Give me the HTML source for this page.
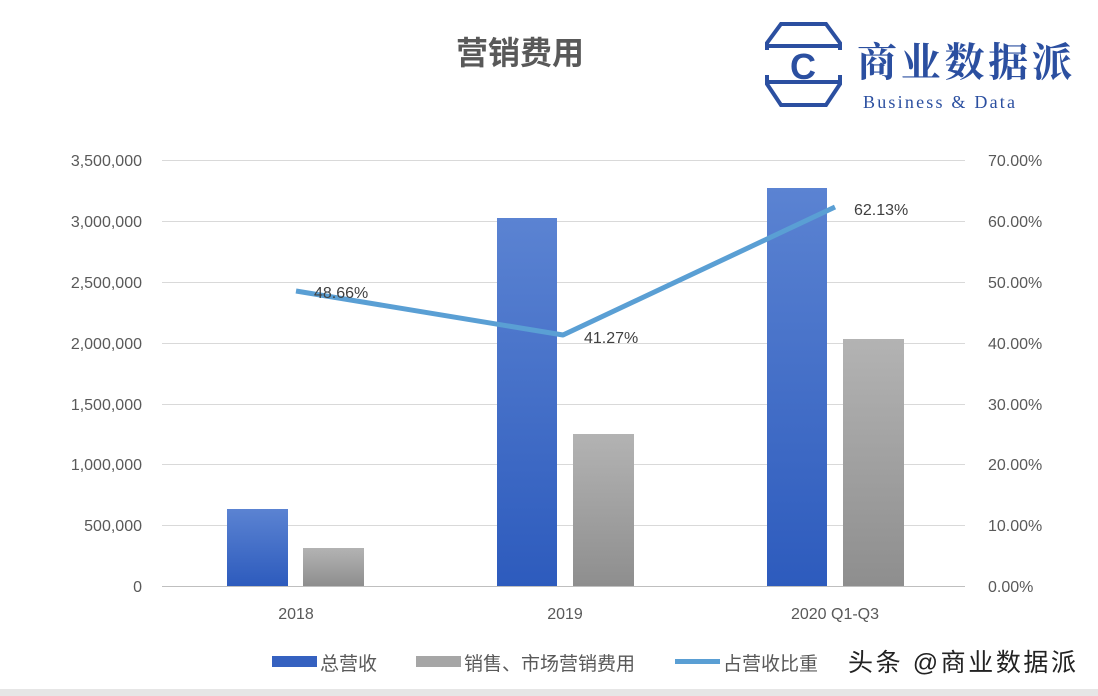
<!DOCTYPE html>
<html><head><meta charset="utf-8"><style>
html,body{margin:0;padding:0;background:#fff;}
svg{display:block;font-family:"Liberation Sans","Noto Sans CJK SC",sans-serif;}
</style></head><body>
<svg width="1098" height="696" viewBox="0 0 1098 696" xmlns="http://www.w3.org/2000/svg">
<defs>
<linearGradient id="gb" x1="0" y1="0" x2="0" y2="1"><stop offset="0" stop-color="#5b83d2"/><stop offset="1" stop-color="#2d5bbd"/></linearGradient>
<linearGradient id="gg" x1="0" y1="0" x2="0" y2="1"><stop offset="0" stop-color="#b3b3b3"/><stop offset="1" stop-color="#8e8e8e"/></linearGradient>
</defs>
<rect x="0" y="0" width="1098" height="696" fill="#fff"/>
<rect x="0" y="689" width="1098" height="7" fill="#e6e6e6"/>
<text x="520" y="64" font-size="32" font-weight="bold" fill="#595959" text-anchor="middle">营销费用</text>
<g stroke="#2b4fa0" stroke-width="4" fill="none">
<polyline points="767,50 767,43 781,24 826,24 840,43 840,50"/>
<polyline points="767,75 767,84 781,105 826,105 840,84 840,75"/>
<line x1="765" y1="46" x2="842" y2="46"/><line x1="765" y1="82" x2="842" y2="82"/>
</g>
<text x="803" y="79" font-size="36" font-weight="bold" fill="#2b4fa0" text-anchor="middle">C</text>
<text x="857" y="76" font-size="40" font-weight="bold" fill="#2b4fa0" font-family="Noto Serif CJK SC,serif" textLength="215">商业数据派</text>
<text x="863" y="108" font-size="18" fill="#2b4fa0" font-family="Liberation Serif,serif" textLength="152">Business &amp; Data</text>
<g stroke="#d9d9d9" stroke-width="1">
<line x1="162" y1="160.5" x2="965" y2="160.5"/><line x1="162" y1="221.5" x2="965" y2="221.5"/>
<line x1="162" y1="282.5" x2="965" y2="282.5"/><line x1="162" y1="343.5" x2="965" y2="343.5"/>
<line x1="162" y1="404.5" x2="965" y2="404.5"/><line x1="162" y1="464.5" x2="965" y2="464.5"/>
<line x1="162" y1="525.5" x2="965" y2="525.5"/>
</g>
<line x1="162" y1="586.5" x2="965" y2="586.5" stroke="#bfbfbf"/>
<g font-size="16" fill="#595959" text-anchor="end">
<text x="142" y="166">3,500,000</text><text x="142" y="227">3,000,000</text><text x="142" y="288">2,500,000</text>
<text x="142" y="349">2,000,000</text><text x="142" y="410">1,500,000</text><text x="142" y="470">1,000,000</text>
<text x="142" y="531">500,000</text><text x="142" y="592">0</text>
</g>
<g font-size="16" fill="#595959">
<text x="988" y="166">70.00%</text><text x="988" y="227">60.00%</text><text x="988" y="288">50.00%</text>
<text x="988" y="349">40.00%</text><text x="988" y="410">30.00%</text><text x="988" y="470">20.00%</text>
<text x="988" y="531">10.00%</text><text x="988" y="592">0.00%</text>
</g>
<g font-size="16" fill="#595959" text-anchor="middle">
<text x="296" y="619">2018</text><text x="565" y="619">2019</text><text x="835" y="619">2020 Q1-Q3</text>
</g>
<rect x="227" y="509" width="61" height="77" fill="url(#gb)"/>
<rect x="303" y="548" width="61" height="38" fill="url(#gg)"/>
<rect x="497" y="218" width="60" height="368" fill="url(#gb)"/>
<rect x="573" y="434" width="61" height="152" fill="url(#gg)"/>
<rect x="767" y="188" width="60" height="398" fill="url(#gb)"/>
<rect x="843" y="339" width="61" height="247" fill="url(#gg)"/>
<polyline points="296,291 563,335 835,207" fill="none" stroke="#5a9fd4" stroke-width="5" stroke-linejoin="round"/>
<g font-size="16" fill="#404040">
<text x="314" y="298">48.66%</text><text x="584" y="343">41.27%</text><text x="854" y="215">62.13%</text>
</g>
<rect x="272" y="656" width="45" height="11" fill="#3561c0"/>
<text x="320" y="670" font-size="19" fill="#595959">总营收</text>
<rect x="416" y="656" width="45" height="11" fill="#a6a6a6"/>
<text x="464" y="670" font-size="19" fill="#595959">销售、市场营销费用</text>
<rect x="675" y="659" width="45" height="5" fill="#5a9fd4"/>
<text x="723" y="670" font-size="19" fill="#595959">占营收比重</text>
<text x="848" y="671" font-size="25" fill="#222" textLength="228">头条 @商业数据派</text>
</svg>
</body></html>
